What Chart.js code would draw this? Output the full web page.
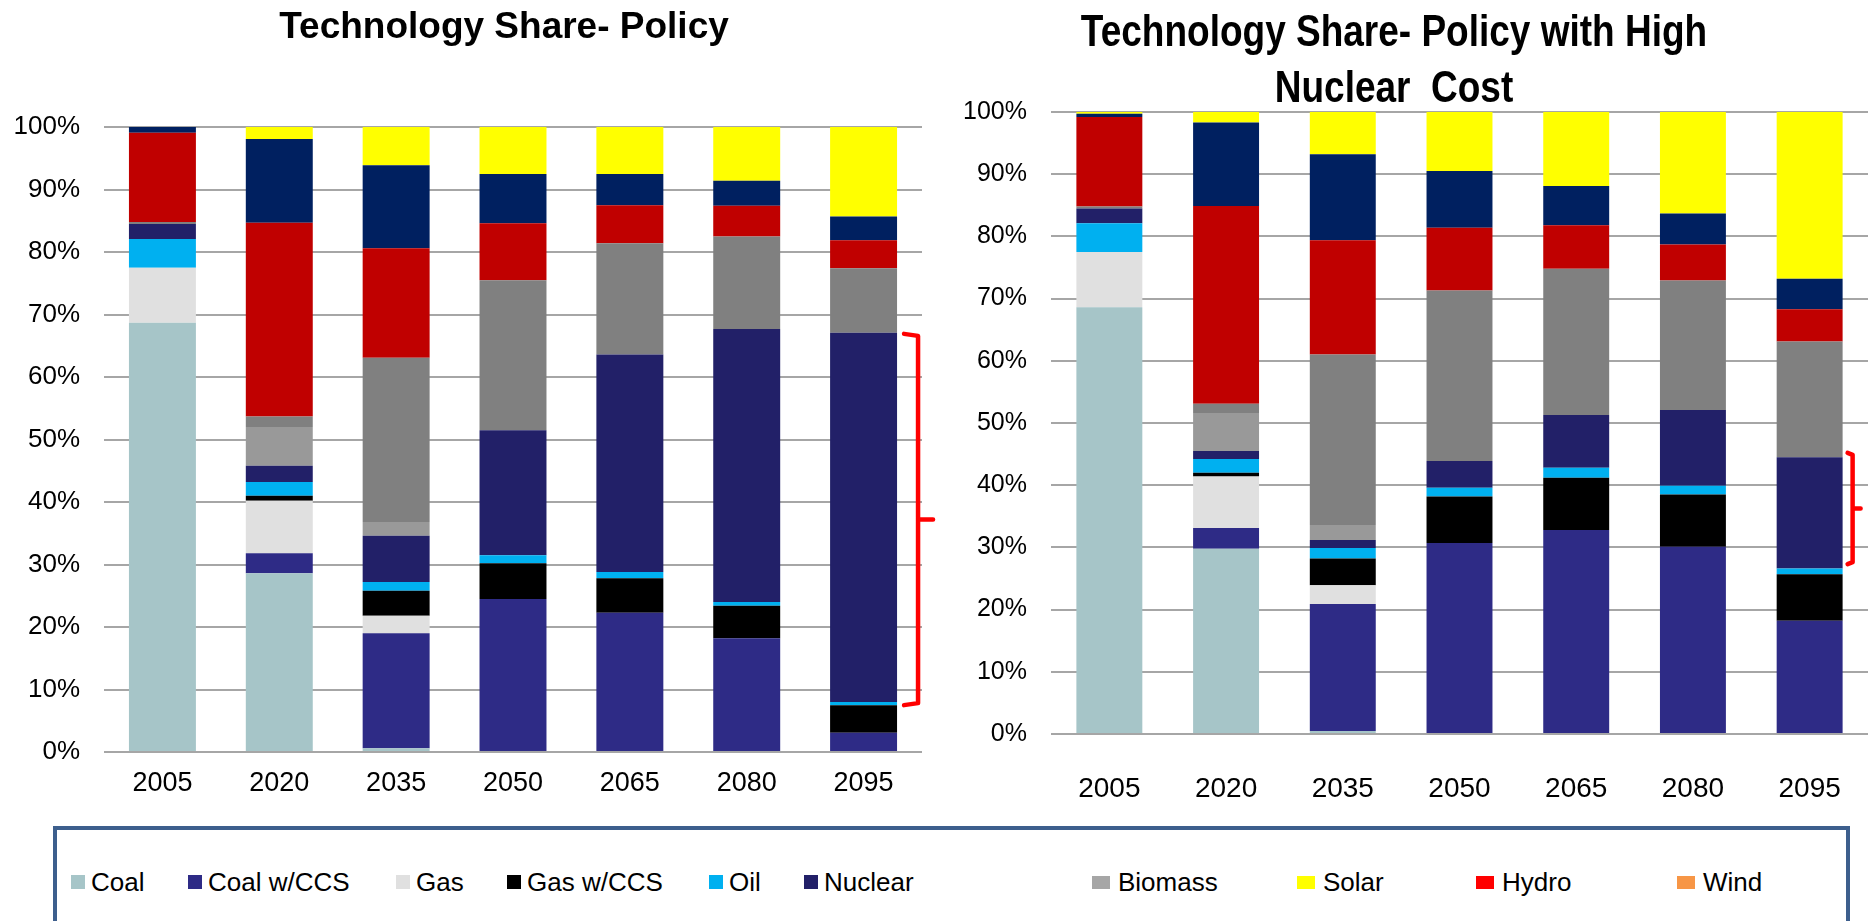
<!DOCTYPE html>
<html>
<head>
<meta charset="utf-8">
<script src="https://cdn.jsdelivr.net/npm/chart.js@4.4.0/dist/chart.umd.min.js"></script>
<style>
  html, body { margin: 0; padding: 0; background: #fff; }
  #wrap { position: relative; width: 1870px; height: 921px; overflow: hidden;
    font-family: "Liberation Sans", Arial, sans-serif; }
  #policyChart { position: absolute; left: 0; top: 0; }
  #highCostChart { position: absolute; left: 920px; top: 0; }
  #legend { position: absolute; left: 53px; top: 826px; width: 1797px; height: 200px;
    border: 4px solid #3D5F8D; box-sizing: border-box; }
  .item { position: absolute; top: 0; height: 0; }
  .swatch { position: absolute; }
  .label { position: absolute; font-size: 26px; line-height: 30px; color: #000; white-space: nowrap; }
</style>
</head>
<body>
<div id="wrap">
  <canvas id="policyChart" width="1008" height="815"></canvas>
  <canvas id="highCostChart" width="948" height="815"></canvas>
  <div id="legend"></div>
</div>
<script>
const years = ["2005", "2020", "2035", "2050", "2065", "2080", "2095"];

const techNames = ["Coal", "Coal w/CCS", "Gas", "Gas w/CCS", "Oil", "Nuclear",
  "Biomass w/CCS", "Biomass", "Hydro", "Wind", "Solar"];
const techColors = ["#A6C5C8", "#2E2B86", "#E0E0E0", "#000000", "#00B0F0", "#222068",
  "#999999", "#808080", "#C00000", "#002060", "#FFFF00"];

// Technology Share - Policy (percent)
const policyCoal       = [68.7, 28.6, 0.6, 0, 0, 0, 0];
const policyCoalCCS    = [0, 3.2, 18.4, 24.5, 22.3, 18.2, 3.1];
const policyGas        = [8.8, 8.4, 2.8, 0, 0, 0, 0];
const policyGasCCS     = [0, 0.8, 4.0, 5.7, 5.5, 5.2, 4.4];
const policyOil        = [4.6, 2.2, 1.4, 1.3, 1.0, 0.6, 0.5];
const policyNuclear    = [2.4, 2.6, 7.4, 20.0, 34.8, 43.7, 59.1];
const policyBioCCS     = [0, 6.2, 2.2, 0, 0, 0, 0];
const policyBiomass    = [0.3, 1.7, 26.3, 24.0, 17.8, 14.8, 10.3];
const policyHydro      = [14.3, 31.0, 17.5, 9.1, 6.1, 4.9, 4.5];
const policyWind       = [0.9, 13.4, 13.3, 7.9, 5.0, 4.0, 3.8];
const policySolar      = [0, 1.9, 6.1, 7.5, 7.5, 8.6, 14.3];
const policyBracket    = [7.5, 66.9];
const policyTitle      = ["Technology Share- Policy"];

// Technology Share - Policy with High Nuclear Cost (percent)
const highCoal         = [68.6, 29.8, 0.5, 0, 0, 0, 0];
const highCoalCCS      = [0, 3.3, 20.4, 30.7, 32.8, 30.1, 18.2];
const highGas          = [8.9, 8.3, 3.0, 0, 0, 0, 0];
const highGasCCS       = [0, 0.6, 4.3, 7.5, 8.4, 8.4, 7.5];
const highOil          = [4.6, 2.2, 1.7, 1.4, 1.6, 1.4, 0.9];
const highNuclear      = [2.4, 1.3, 1.3, 4.3, 8.5, 12.2, 17.9];
const highBioCCS       = [0, 6.1, 2.4, 0, 0, 0, 0];
const highBiomass      = [0.3, 1.5, 27.4, 27.4, 23.5, 20.8, 18.6];
const highHydro        = [14.4, 31.8, 18.4, 10.1, 7.0, 5.8, 5.2];
const highWind         = [0.5, 13.4, 13.8, 9.1, 6.3, 5.0, 4.9];
const highSolar        = [0.3, 1.7, 6.8, 9.5, 11.9, 16.3, 26.8];
const highBracket      = [27.3, 45.2];
const highTitle        = ["Technology Share- Policy with High", "Nuclear  Cost"];

const yTicks = [0, 10, 20, 30, 40, 50, 60, 70, 80, 90, 100];

// shared legend box under both charts
const legendNames  = ["Coal", "Coal w/CCS", "Gas", "Gas w/CCS", "Oil", "Nuclear", "Biomass", "Solar", "Hydro", "Wind"];
const legendColors = ["#A6C5C8", "#2E2B86", "#E0E0E0", "#000000", "#00B0F0", "#222068", "#A6A6A6", "#FFFF00", "#FF0000", "#F79646"];

const policySeries = [policyCoal, policyCoalCCS, policyGas, policyGasCCS, policyOil, policyNuclear,
  policyBioCCS, policyBiomass, policyHydro, policyWind, policySolar];
const highSeries = [highCoal, highCoalCCS, highGas, highGasCCS, highOil, highNuclear,
  highBioCCS, highBiomass, highHydro, highWind, highSolar];

const FONT = "'Liberation Sans', Arial, sans-serif";

// red curly bracket next to the last bar
const bracketPlugin = {
  id: "bracket",
  afterDatasetsDraw(chart, args, opts) {
    const meta = chart.getDatasetMeta(0);
    const bar = meta.data[meta.data.length - 1];
    const right = bar.x + bar.width / 2;
    const y = chart.scales.y;
    const top = y.getPixelForValue(opts.range[1]);
    const bottom = y.getPixelForValue(opts.range[0]);
    const mid = (top + bottom) / 2;
    const ctx = chart.ctx;
    ctx.save();
    ctx.strokeStyle = "#FF0000";
    ctx.lineWidth = 4.5;
    ctx.lineJoin = "round";
    ctx.lineCap = "round";
    ctx.beginPath();
    ctx.moveTo(right + opts.hook, top);
    ctx.lineTo(right + opts.offset, top + 2);
    ctx.lineTo(right + opts.offset, bottom - 2);
    ctx.lineTo(right + opts.hook, bottom);
    ctx.moveTo(right + opts.offset, mid);
    ctx.lineTo(right + opts.tick, mid);
    ctx.stroke();
    ctx.restore();
  },
};

// bold title centred on the canvas, slightly stretched vertically like the source
const headingPlugin = {
  id: "heading",
  afterDraw(chart, args, opts) {
    const ctx = chart.ctx;
    ctx.save();
    ctx.fillStyle = "#000";
    ctx.font = "bold " + opts.size + "px " + FONT;
    ctx.textAlign = "center";
    ctx.textBaseline = "alphabetic";
    opts.text.forEach((line, i) => {
      ctx.save();
      ctx.translate(chart.width / 2, opts.baselines[i]);
      ctx.scale(1, opts.stretch);
      ctx.fillText(line, 0, 0);
      ctx.restore();
    });
    ctx.restore();
  },
};

function makeChart(id, series, cfg) {
  const ctx = document.getElementById(id).getContext("2d");
  return new Chart(ctx, {
    type: "bar",
    data: {
      labels: years,
      datasets: series.map((vals, i) => ({
        label: techNames[i],
        data: vals,
        backgroundColor: techColors[i],
        borderWidth: 0,
        barPercentage: cfg.barPct,
        categoryPercentage: 1,
      })),
    },
    options: {
      responsive: false,
      animation: false,
      devicePixelRatio: 1,
      layout: { padding: { left: 0, right: cfg.padRight, top: cfg.padTop, bottom: 0 } },
      scales: {
        x: {
          stacked: true,
          grid: { display: false, drawTicks: false },
          border: { display: false },
          ticks: { color: "#000", font: cfg.xFont, padding: cfg.xPad, maxRotation: 0 },
          afterFit: (s) => {
            s.height = cfg.xHeight;
            s.paddingLeft = 0;
            s.paddingRight = 0;
          },
        },
        y: {
          stacked: true,
          min: 0,
          max: 100,
          grid: { color: "#A6A6A6", lineWidth: 2, drawTicks: false },
          border: { display: false },
          afterBuildTicks: (s) => { s.ticks = yTicks.map((v) => ({ value: v })); },
          ticks: {
            color: "#000",
            font: cfg.yFont,
            padding: 24,
            callback: (v) => v + "%",
          },
          afterFit: (s) => { s.width = cfg.yWidth; },
        },
      },
      plugins: {
        legend: { display: false },
        tooltip: { enabled: false },
        title: { display: false },
        heading: cfg.heading,
        bracket: cfg.bracket,
      },
    },
    plugins: [bracketPlugin, headingPlugin],
  });
}

makeChart("policyChart", policySeries, {
  barPct: 0.573,
  padRight: 86,
  padTop: 127,
  xHeight: 63,
  xPad: 15,
  yWidth: 104,
  xFont: { family: FONT, size: 27 },
  yFont: { family: FONT, size: 26 },
  heading: { text: policyTitle, size: 37, stretch: 1.0, baselines: [38] },
  bracket: { range: policyBracket, hook: 7, offset: 21, tick: 36 },
});

makeChart("highCostChart", highSeries, {
  barPct: 0.565,
  padRight: 0,
  padTop: 112,
  xHeight: 81,
  xPad: 38,
  yWidth: 131,
  xFont: { family: FONT, size: 28 },
  yFont: { family: FONT, size: 25 },
  heading: { text: highTitle, size: 37, stretch: 1.2, baselines: [46, 102] },
  bracket: { range: highBracket, hook: 5, offset: 10, tick: 18 },
});

// legend markup
const legendLeft = [71, 188, 396, 507, 709, 804, 1092, 1297, 1476, 1677];
const legendBox = document.getElementById("legend");
legendNames.forEach((name, i) => {
  const wide = i >= 6;
  const item = document.createElement("div");
  item.className = "item";
  item.style.left = (legendLeft[i] - 57) + "px";
  const sw = document.createElement("div");
  sw.className = "swatch";
  sw.style.background = legendColors[i];
  sw.style.width = (wide ? 18 : 14) + "px";
  sw.style.height = (wide ? 13 : 14) + "px";
  sw.style.top = (wide ? 46 : 45) + "px";
  sw.style.left = "0px";
  const lb = document.createElement("div");
  lb.className = "label";
  lb.textContent = name;
  lb.style.left = (wide ? 26 : 20) + "px";
  lb.style.top = "37px";
  item.appendChild(sw);
  item.appendChild(lb);
  legendBox.appendChild(item);
});
</script>
</body>
</html>
